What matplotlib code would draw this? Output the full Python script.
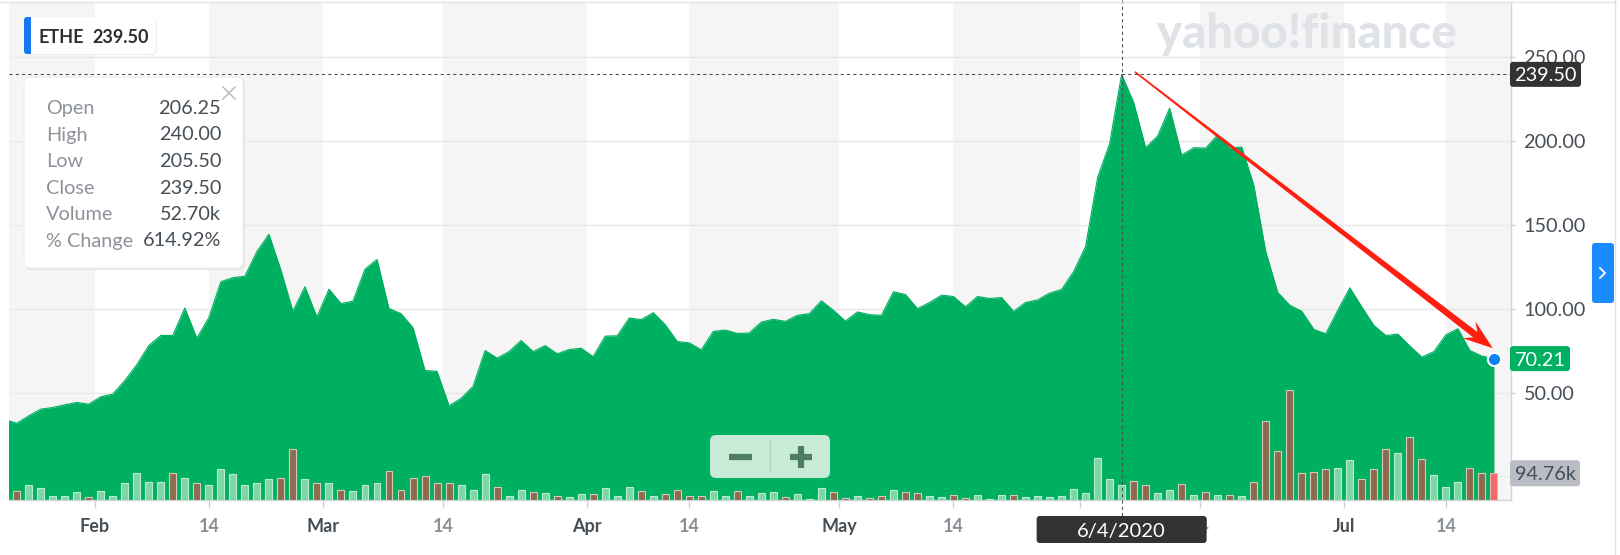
#!/usr/bin/env python
# ETHE daily close, yahoo finance style area chart with volume

import numpy as np
import matplotlib; matplotlib.use('Agg')
import matplotlib.pyplot as plt
from matplotlib.patches import FancyBboxPatch, Polygon
from matplotlib.lines import Line2D
from matplotlib.transforms import IdentityTransform

plt.rcParams['font.family'] = ['Lato', 'DejaVu Sans']

# daily close (one value per trading day)
close = [34.0, 31.7, 36.1, 40.1, 41.1, 42.7, 44.1, 43.1, 47.5, 49.1,
         57.1, 66.6, 78.0, 84.0, 84.0, 100.4, 82.4, 94.6, 116.0, 118.4,
         119.3, 133.9, 144.3, 122.9, 98.4, 113.0, 95.0, 111.6, 103.0, 104.4,
         123.5, 129.3, 100.0, 97.0, 88.6, 63.1, 62.7, 42.1, 46.5, 53.7,
         75.0, 70.5, 74.4, 81.0, 74.4, 78.0, 73.1, 75.6, 76.4, 71.4,
         83.6, 83.8, 94.4, 93.4, 97.6, 90.4, 80.4, 79.6, 75.4, 86.4,
         87.2, 85.2, 85.5, 92.0, 93.6, 92.4, 96.0, 97.0, 104.6, 99.0,
         92.6, 98.0, 96.4, 96.0, 110.0, 108.4, 100.0, 103.6, 108.0, 107.2,
         101.0, 107.2, 106.0, 106.6, 98.4, 103.6, 105.2, 109.2, 111.4, 122.0,
         137.0, 178.1, 198.2, 239.5, 222.8, 195.8, 202.8, 219.4, 191.4, 195.8,
         195.6, 203.4, 195.4, 196.2, 173.5, 134.0, 109.6, 102.0, 98.4, 87.6,
         85.0, 99.0, 112.4, 101.0, 90.0, 84.0, 84.8, 77.7, 71.1, 74.4,
         84.4, 88.0, 75.0, 71.7, 70.21]

# volume in thousands
volume_k = [30, 32, 52, 42, 15, 15, 27, 10, 32, 15,
            59, 95, 64, 64, 95, 79, 59, 53, 111, 91,
            53, 59, 74, 79, 180, 74, 59, 59, 37, 32,
            53, 59, 101, 37, 79, 84, 59, 59, 53, 37,
            91, 47, 15, 37, 27, 26, 14, 9, 20, 20,
            42, 15, 47, 31, 15, 20, 36, 14, 14, 31,
            15, 31, 15, 26, 30, 12, 20, 5, 42, 30,
            7, 14, 8, 13, 36, 30, 24, 14, 10, 18,
            8, 19, 5, 19, 18, 10, 14, 10, 14, 38,
            26, 148, 74, 52.7, 69, 52, 26, 36, 57, 19,
            30, 19, 19, 14, 62, 281, 174, 390, 95, 100,
            110, 115, 142, 74, 110, 180, 165, 222, 147, 89,
            47, 63, 115, 95, 94.76]

# u = up day, d = down day
updown = ("uduuuuuduu" "uuuududuuu" "uuuddududu" "uudddddduu" "uduududuud"
          "uuududdddu" "uduuuduuud" "duddudduud" "duuuduuuuu" "uuuudduudu"
          "dududddddd" "duuddduddu" "uuddd")

tick_pos = [7.5, 17, 26.5, 36.5, 48.5, 57, 69.5, 79, 89.5, 99.5, 111.5, 120]
tick_lab = ['Feb', '14', 'Mar', '14', 'Apr', '14', 'May', '14', 'Jun', '14', 'Jul', '14']
price_ticks = [0, 50, 100, 150, 200, 250]

ticker = 'ETHE'
hover_idx = 93
hover_date = '6/4/2020'
hover_keys = ['Open', 'High', 'Low', 'Close', 'Volume', '% Change']
hover_vals = ['206.25', '240.00', '205.50', '239.50', '52.70k', '614.92%']
last_vol_lab = '94.76k'

GREEN = '#00b061'
DARK = '#464e56'
W, H = 1620, 555

fig = plt.figure(figsize=(W / 100, H / 100), dpi=100)
ax = fig.add_axes([9 / W, 55 / H, 1502 / W, 498 / H])
x = np.arange(len(close))
xlo, xhi = 0.36, 125.42
ylo, yhi = -14, 282.6
ax.set_xlim(xlo, xhi)
ax.set_ylim(ylo, yhi)

# alternating bands between x ticks
edges = [xlo] + tick_pos + [xhi]
for k in range(len(edges) - 1):
    if k % 2 == 0:
        ax.axvspan(edges[k], edges[k + 1], color='#f5f5f5', lw=0, zorder=0)
for p in price_ticks:
    ax.axhline(p, color='#e8e8e8', lw=1, zorder=0.5)

ax.fill_between(x, close, ylo, color=GREEN, lw=0, zorder=2)
ax.plot(x, close, color=GREEN, lw=0.8, zorder=2)

# volume on a twin axis
ax2 = ax.twinx()
ax2.set_ylim(0, 1764)
ax2.set_xlim(xlo, xhi)
faces, lines = [], []
for i, c in enumerate(updown):
    if i == len(updown) - 1:
        faces.append('#f06b6b'); lines.append('#f6a9a9')
    elif c == 'u':
        faces.append('#7ed6a4'); lines.append('#b9ecd1')
    else:
        faces.append('#8c6b4f'); lines.append('#d6cabc')
ax2.bar(x, volume_k, width=0.58, color=faces, edgecolor=lines, linewidth=0.8, zorder=3)
ax2.set_yticks([])
for s in ax2.spines.values():
    s.set_visible(False)

# price axis on the right (after twinx, which moves it left)
ax.yaxis.tick_right()
ax.yaxis.set_label_position('right')
ax.set_yticks(price_ticks)
ax.set_yticklabels(['%.2f' % p for p in price_ticks])
ax.tick_params(axis='y', length=3, width=1, color='#d0d3d8', pad=6,
               labelsize=14.3, labelcolor=DARK)
ax.set_xticks(tick_pos)
ax.set_xticklabels(tick_lab)
ax.tick_params(axis='x', length=6, width=1, color='#d0d3d8', pad=7, labelsize=13)
for t in ax.get_xticklabels():
    t.set_fontweight('bold')
    t.set_color(DARK if t.get_text().isalpha() else '#8b9096')
for s in ['left', 'top']:
    ax.spines[s].set_visible(False)
for s in ['right', 'bottom']:
    ax.spines[s].set_color('#d0d3d8')
    ax.spines[s].set_linewidth(1)

ID = IdentityTransform()


def pbox(x0, y0, x1, y1, fc, ec='none', r=4, lw=1, z=5):
    b = FancyBboxPatch((x0, H - y1), x1 - x0, y1 - y0,
                       boxstyle='round,pad=0,rounding_size=%g' % r,
                       transform=ID, fc=fc, ec=ec, lw=lw, zorder=z)
    fig.add_artist(b)


def ptext(xp, yp, s, **kw):
    return fig.text(xp, H - yp, s, transform=ID, **kw)


def pline(xs, ys, **kw):
    fig.add_artist(Line2D(xs, [H - v for v in ys], transform=ID, **kw))


# crosshair at hovered day
xv, yv = ax.transData.transform((hover_idx, close[hover_idx]))
pline([xv, xv], [0, 516], color='#4a4a4a', lw=0.75, dashes=(3, 3), zorder=4)
xl = ax.transData.transform((xlo, 0))[0]
xr = ax.transData.transform((xhi, 0))[0]
pline([xl, xr], [H - yv, H - yv], color='#4a4a4a', lw=0.75, dashes=(3, 3), zorder=4)

# red arrow
p0 = ax.transData.transform((hover_idx + 1.1, close[hover_idx] + 1.5))
p1 = ax.transData.transform((x[-1] - 0.1, close[-1] + 6.2))
d = (p1 - p0) / np.hypot(*(p1 - p0))
n = np.array([-d[1], d[0]])
hb = p1 - 22 * d
bb = p1 - 30 * d
arrow = Polygon([p0 + 0.8 * n, hb + 3.4 * n, bb + 10.5 * n, p1,
                 bb - 10.5 * n, hb - 3.4 * n, p0 - 0.8 * n],
                closed=True, transform=ID, fc='#ff1e10', ec='none', zorder=6)
fig.add_artist(arrow)

# last point marker
xe, ye = ax.transData.transform((x[-1], close[-1]))
fig.add_artist(Line2D([xe], [ye], transform=ID, marker='o', ms=9.5, mfc='#0a84f5',
                      mec='white', mew=1.5, zorder=7))

# right axis value flags
ya = H - yv
pbox(1510, ya - 12.5, 1581, ya + 12.5, '#333333', r=3, z=8)
ptext(1545.5, ya, '%.2f' % close[hover_idx], color='white', fontsize=14.3,
      ha='center', va='center_baseline', zorder=9)
yl = H - ye
pbox(1510, yl - 12.5, 1570, yl + 12.5, GREEN, r=3, z=8)
ptext(1540, yl, '%.2f' % close[-1], color='white', fontsize=14.3,
      ha='center', va='center_baseline', zorder=9)
yvol = H - ax2.transData.transform((0, volume_k[-1]))[1]
pbox(1510, yvol - 13, 1580, yvol + 13, '#babdc5', r=3, z=8)
ptext(1545, yvol, last_vol_lab, color=DARK, fontsize=14.3,
      ha='center', va='center_baseline', zorder=9)

# date flag
pbox(xv - 85, 516, xv + 85, 543, '#333333', r=3, z=8)
ptext(xv, 529.5, hover_date, color='white', fontsize=14.5, ha='center',
      va='center_baseline', zorder=9)

# watermark
ptext(1307, 34, 'yahoo!finance', color='#dfe2e6', fontsize=34, fontweight='black',
      ha='center', va='center', zorder=1.5)

# zoom buttons
pbox(710, 435, 830, 478, '#c8ebd8', r=6, z=8)
pline([770, 770], [441, 472], color='#a8d8be', lw=1, zorder=9)
pline([729, 752], [456.5, 456.5], color='#4e7d63', lw=4.5, solid_capstyle='butt', zorder=9)
pline([790, 812], [456.5, 456.5], color='#4e7d63', lw=4.5, solid_capstyle='butt', zorder=9)
pline([801, 801], [446, 468], color='#4e7d63', lw=4.5, solid_capstyle='butt', zorder=9)

# ticker chip
pbox(25, 18, 157, 55, '#ececec', r=5, z=8)
pbox(24, 17, 156, 54, 'white', r=5, z=8)
pbox(24, 17, 31, 54, '#1677f2', r=3, z=8)
pbox(28, 17, 31, 54, '#1677f2', r=0, z=8)
ptext(39, 43, ticker, color='#2b2f33', fontsize=13, fontweight='bold', zorder=9)
ptext(92, 43, '%.2f' % close[hover_idx], color='#2b2f33', fontsize=13,
      fontweight='bold', zorder=9)

# hover tooltip
pbox(25, 78, 245, 270, '#e6e6e6', r=6, z=8)
pbox(24, 77, 243, 268, 'white', ec='#efefef', r=6, z=8)
pline([223, 235], [87, 99], color='#b5b5b5', lw=1, zorder=9)
pline([223, 235], [99, 87], color='#b5b5b5', lw=1, zorder=9)
for k, (key, val) in enumerate(zip(hover_keys, hover_vals)):
    yb = 114 + 26.5 * k
    ptext(46, yb, key, color='#8d9299', fontsize=14.3, va='baseline', zorder=9)
    ptext(221, yb, val, color=DARK, fontsize=14.3, va='baseline', ha='right', zorder=9)

# side tab
pbox(1592, 243, 1614, 303, '#1a8cff', r=3, z=8)
pline([1600, 1605, 1600], [268, 273, 278], color='white', lw=1.3, zorder=9)

# frame lines
pline([0, 1615], [1.5, 1.5], color='#e3e3e3', lw=1, zorder=9)
pline([1615, 1615], [0, H], color='#e3e3e3', lw=1, zorder=9)

fig.savefig('out.png', dpi=100)
